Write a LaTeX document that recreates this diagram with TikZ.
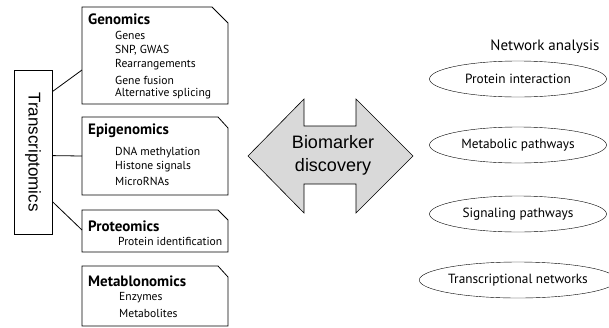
\documentclass[tikz,border=0pt]{standalone}
\usepackage{fontspec}
\setmainfont{PT Sans}
\newfontfamily\arialf{Liberation Sans}
\usetikzlibrary{shapes.geometric,calc}
\begin{document}
\begin{tikzpicture}[x=1pt,y=-1pt,
  area/.style={draw=none,minimum width=#1,inner sep=0pt,outer sep=0pt},
  ttl/.style={anchor=west,inner sep=0pt,font=\fontsize{15}{17}\selectfont\bfseries},
  itm/.style={anchor=west,inner sep=0pt,font=\fontsize{11.6}{13}\selectfont},
  ell/.style={draw,ellipse,minimum width=177pt,minimum height=36pt,inner sep=0pt,font=\fontsize{13.3}{15}\selectfont},
  line/.style={draw,line width=0.8pt}]
\useasboundingbox (0,0) rectangle (609,327);
% Transcriptomics
\node[draw,line width=0.8pt,minimum width=38pt,minimum height=164pt,inner sep=0pt] (tr) at (33,152) {};
\node[rotate=-90,font=\arialf\fontsize{17}{19}\selectfont] (trt) at (tr.center) {Transcriptomics};
% boxes
\node[area=146pt,minimum height=97pt] (gen) at (155,55.5) {};
\node[area=146pt,minimum height=78pt] (epi) at (155,156) {};
\node[area=146pt,minimum height=42pt] (pro) at (155,231) {};
\node[area=146pt,minimum height=60pt] (met) at (155,296) {};
\draw[line] (gen.south west) |- ($(gen.north east)+(-16,0)$) -- ($(gen.north east)+(0,16)$) -- (gen.south east) -- cycle;
\draw[line] (epi.south west) |- ($(epi.north east)+(-10,0)$) -- ($(epi.north east)+(0,11)$) -- (epi.south east) -- cycle;
\draw[line] (pro.south west) |- ($(pro.north east)+(-10,0)$) -- ($(pro.north east)+(0,10)$) -- (pro.south east) -- cycle;
\draw[line] (met.south west) |- ($(met.north east)+(-10,0)$) -- ($(met.north east)+(0,11)$) -- (met.south east) -- cycle;
% texts
\node[ttl] (g0) at (88,19) {Genomics};
\node[itm] (g1) at (115,35) {Genes};
\node[itm] (g2) at (115,50) {SNP, GWAS};
\node[itm] (g3) at (115,65) {Rearrangements};
\node[itm] (g4) at (115,80) {Gene fusion};
\node[itm] (g5) at (115,94) {Alternative splicing};
\node[ttl] (e0) at (88,131) {Epigenomics};
\node[itm] (e1) at (115,153) {DNA methylation};
\node[itm] (e2) at (115,167) {Histone signals};
\node[itm] (e3) at (115,181) {MicroRNAs};
\node[ttl] (p0) at (88,226) {Proteomics};
\node[itm] (p1) at (118,241) {Protein identification};
\node[ttl] (m0) at (88,281) {Metablonomics};
\node[itm] (m1) at (119,298) {Enzymes};
\node[itm] (m2) at (119,313) {Metabolites};
% connectors
\draw[line] ($(tr.north east)+(0,22)$) -- ($(gen.south west)+(0,-34)$);
\draw[line] ($(tr.north east)+(0,86)$) -- ($(epi.south west)+(0,-39)$);
\draw[line] ($(tr.north east)+(0,132)$) -- ($(pro.south west)+(0,-22)$);
% arrow
\draw[line width=0.6pt,fill=black!15] (248,156) -- (304,99) -- (304,126) -- (356,126) -- (356,99) -- (413,156) -- (356,213) -- (356,184) -- (304,184) -- (304,213) -- cycle;
\node[align=center,font=\arialf\fontsize{18}{23}\selectfont] (bio) at (333,155) {Biomarker\\discovery};
% network analysis
\node[font=\fontsize{15}{17}\selectfont] (na) at (545,47) {Network analysis};
\node[ell] (e1n) at (518,79) {Protein interaction};
\node[ell] (e2n) at (518,145) {Metabolic pathways};
\node[ell] (e3n) at (518,214) {Signaling pathways};
\node[ell] (e4n) at (518,280) {Transcriptional networks};
\end{tikzpicture}
\end{document}
